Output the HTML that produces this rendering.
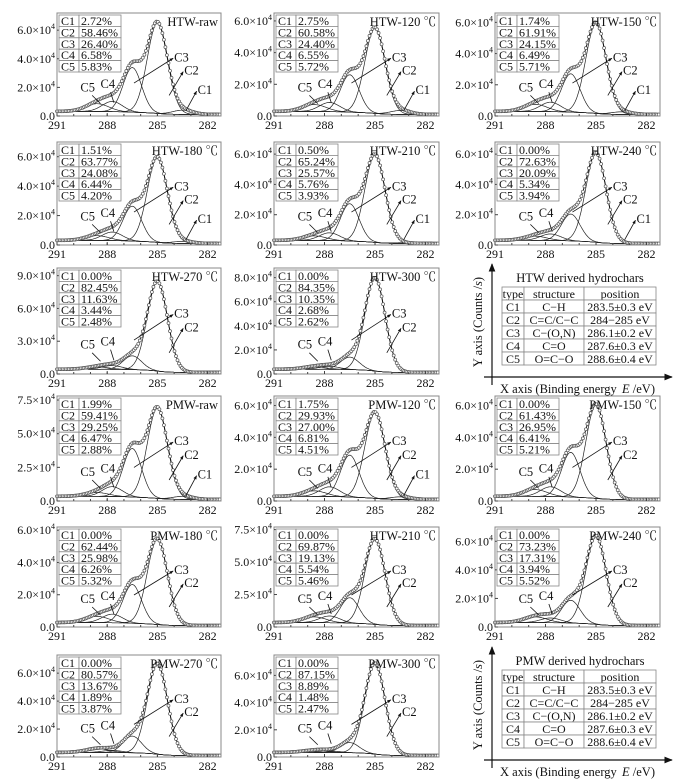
<!DOCTYPE html>
<html><head><meta charset="utf-8"><style>
body{margin:0;background:#fff}
svg{display:block;font-family:"Liberation Serif","Noto Serif CJK SC",serif}
</style></head><body>
<svg id="fig" width="678" height="784" viewBox="0 0 678 784" xmlns="http://www.w3.org/2000/svg"></svg>
<script>
// ---- data ----
const panelTitles=["HTW-raw","HTW-120 ℃","HTW-150 ℃","HTW-180 ℃","HTW-210 ℃","HTW-240 ℃","HTW-270 ℃","HTW-300 ℃","PMW-raw","PMW-120 ℃","PMW-150 ℃","PMW-180 ℃","HTW-210 ℃","PMW-240 ℃","PMW-270 ℃","PMW-300 ℃"];
const pctText=[
["2.72%","58.46%","26.40%","6.58%","5.83%"],["2.75%","60.58%","24.40%","6.55%","5.72%"],["1.74%","61.91%","24.15%","6.49%","5.71%"],
["1.51%","63.77%","24.08%","6.44%","4.20%"],["0.50%","65.24%","25.57%","5.76%","3.93%"],["0.00%","72.63%","20.09%","5.34%","3.94%"],
["0.00%","82.45%","11.63%","3.44%","2.48%"],["0.00%","84.35%","10.35%","2.68%","2.62%"],["1.99%","59.41%","29.25%","6.47%","2.88%"],
["1.75%","29.93%","27.00%","6.81%","4.51%"],["0.00%","61.43%","26.95%","6.41%","5.21%"],["0.00%","62.44%","25.98%","6.26%","5.32%"],
["0.00%","69.87%","19.13%","5.54%","5.46%"],["0.00%","73.23%","17.31%","3.94%","5.52%"],["0.00%","80.57%","13.67%","1.89%","3.87%"],["0.00%","87.15%","8.89%","1.48%","2.47%"]];
const pctValues=[[2.72,58.46,26.40,6.58,5.83],[2.75,60.58,24.40,6.55,5.72],[1.74,61.91,24.15,6.49,5.71],[1.51,63.77,24.08,6.44,4.20],[0.50,65.24,25.57,5.76,3.93],[0,72.63,20.09,5.34,3.94],[0,82.45,11.63,3.44,2.48],[0,84.35,10.35,2.68,2.62],[1.99,59.41,29.25,6.47,2.88],[1.75,59.93,27.00,6.81,4.51],[0,61.43,26.95,6.41,5.21],[0,62.44,25.98,6.26,5.32],[0,69.87,19.13,5.54,5.46],[0,73.23,17.31,3.94,5.52],[0,80.57,13.67,1.89,3.87],[0,87.15,8.89,1.48,2.47]];
const peakTops=[6.6,5.6,6.0,6.0,6.0,6.1,8.5,8.0,7.0,5.6,6.1,5.5,6.8,6.4,6.7,6.9]; // x1e4
const yMaxes=[7.2,6.5,6.6,7.0,6.8,6.8,9.7,8.8,7.8,6.6,6.6,6.2,7.7,7.0,7.3,7.5];
const tickSets=[[0,2,4,6],[0,2,4,6],[0,2,4,6],[0,2,4,6],[0,2,4,6],[0,2,4,6],[0,3,6,9],[0,2,4,6,8],[0,2.5,5,7.5],[0,2,4,6],[0,2,4,6],[0,2,4,6],[0,2.5,5,7.5],[0,2,4,6],[0,2,4,6],[0,2,4,6]];
const showC1=[1,1,1,1,1,1,0,0,1,1,0,0,0,0,0,0];
const centers=[283.5,285.0,286.5,287.7,288.6];
const sigmas=[0.6,0.6,0.55,0.6,0.7];
const xTicks=[291,288,285,282];
const cols=[[57,221],[274,439],[495,660]];
const rows=[[13,116],[142,245],[268,374],[396,501],[527,627],[655,757]];
const legendRows=[["type","structure","position"],["C1","C−H","283.5±0.3 eV"],["C2","C=C/C−C","284−285 eV"],["C3","C−(O,N)","286.1±0.2 eV"],["C4","C=O","287.6±0.3 eV"],["C5","O=C−O","288.6±0.4 eV"]];

const svg=document.getElementById('fig');const NS="http://www.w3.org/2000/svg";
function el(tag,attrs,parent,text){const e=document.createElementNS(NS,tag);for(const k in attrs)e.setAttribute(k,attrs[k]);if(text!==undefined)e.textContent=text;(parent||svg).appendChild(e);return e;}
el('defs',{}).innerHTML='<marker id="ah" viewBox="0 0 10 10" refX="9" refY="5" markerWidth="5" markerHeight="5" orient="auto"><path d="M0,1 L10,5 L0,9z" fill="#111"/></marker><marker id="ab" viewBox="0 0 10 10" refX="9" refY="5" markerWidth="7" markerHeight="7" orient="auto"><path d="M0,1 L10,5 L0,9z" fill="#111"/></marker>';

const slots=[[0,0],[0,1],[0,2],[1,0],[1,1],[1,2],[2,0],[2,1],[3,0],[3,1],[3,2],[4,0],[4,1],[4,2],[5,0],[5,1]];
function gauss(x,c,s){return Math.exp(-(x-c)*(x-c)/(2*s*s));}

slots.forEach(([r,c],i)=>{
  const [L,R]=cols[c],[T,B]=rows[r];const ymax=yMaxes[i];
  const X=v=>L+(291-v)/(291-281.2)*(R-L);const Y=v=>B-v/ymax*(B-T);
  const g=el('g',{},svg);
  const p=pctValues[i];
  const bLow=0.015*ymax,bHigh=0.045*ymax;
  let S=0;p.forEach((v,k)=>S+=v/sigmas[k]*gauss(285.0,centers[k],sigmas[k]));
  const cumAt=x=>{let s=0;p.forEach((v,k)=>{s+=v*0.5*(1+Math.tanh((x-centers[k])/(sigmas[k]*1.2)));});return s/100;};
  const base=x=>bLow+(bHigh-bLow)*cumAt(x);
  const K=(peakTops[i]-base(285.0))/S;
  const amps=p.map((v,k)=>v/sigmas[k]*K);
  const xs=[];for(let x=291;x>=281.2;x-=0.05)xs.push(x);
  amps.forEach((a,k)=>{if(a<=0)return;let d='';xs.forEach((x,j)=>{d+=(j?'L':'M')+X(x).toFixed(1)+','+Y(base(x)+a*gauss(x,centers[k],sigmas[k])).toFixed(1);});
    const pa=el('path',{d,fill:'none',stroke:'#222','stroke-width':0.7},g);});
  let bd='';xs.forEach((x,j)=>{bd+=(j?'L':'M')+X(x).toFixed(1)+','+Y(base(x)).toFixed(1);});
  const bl=el('path',{d:bd,fill:'none',stroke:'#222','stroke-width':0.7},g);
  const env=x=>base(x)+amps.reduce((s,a,k)=>s+a*gauss(x,centers[k],sigmas[k]),0);
  let ed='';xs.forEach((x,j)=>{ed+=(j?'L':'M')+X(x).toFixed(1)+','+Y(env(x)).toFixed(1);});
  const en=el('path',{d:ed,fill:'none',stroke:'#111','stroke-width':1},g);
  for(let x=291;x>=281.2;x-=0.09){const ci=el('circle',{cx:X(x).toFixed(1),cy:Y(env(x)).toFixed(1),r:1.5,fill:'#fff',stroke:'#555','stroke-width':0.7},g);}
  const fr=el('rect',{x:L,y:T,width:R-L,height:B-T,fill:'none',stroke:'#888','stroke-width':1},g);
  xTicks.forEach(t=>{el('line',{x1:X(t),x2:X(t),y1:B,y2:B-3,stroke:'#444'},g);
    const tl=el('text',{x:X(t),y:B+13,'font-size':12,'text-anchor':'middle',fill:'#111'},g,String(t));});
  for(let t=290;t>=282;t-=1)el('line',{x1:X(t),x2:X(t),y1:B,y2:B-2,stroke:'#444'},g);
  tickSets[i].forEach(t=>{el('line',{x1:L,x2:L+3,y1:Y(t),y2:Y(t),stroke:'#444'},g);
    const tx=el('text',{x:L-2,y:Y(t)+4,'font-size':12,'text-anchor':'end',fill:'#111'},g);
    if(t===0)tx.textContent='0.0';else{tx.textContent=t.toFixed(1)+'×10';el('tspan',{'font-size':8,dy:-5},tx,'4');}});
  const ti=el('text',{x:R-3,y:T+13,'font-size':12.5,'text-anchor':'end',fill:'#111'},g,panelTitles[i]);
  const tb=el('g',{},g);
  const tx0=L+2,ty0=T+2,rh=11.4;
  pctText[i].forEach((v,k)=>{el('rect',{x:tx0,y:ty0+k*rh,width:20,height:rh,fill:'#fff',stroke:'#888','stroke-width':0.8},tb);
    el('rect',{x:tx0+20,y:ty0+k*rh,width:42,height:rh,fill:'#fff',stroke:'#888','stroke-width':0.8},tb);
    el('text',{x:tx0+2,y:ty0+k*rh+10,'font-size':12,fill:'#111'},tb,'C'+(k+1));
    el('text',{x:tx0+22,y:ty0+k*rh+10,'font-size':12,fill:'#111'},tb,v);});
  function lab(name,lx,ly,ax,ay){const lg=el('g',{},g);
    el('line',{x1:X(ax),y1:Y(ay),x2:X(lx)-6,y2:Y(ly)+2,stroke:'#111','stroke-width':0.8,'marker-end':'url(#ah)'},lg);
    el('text',{x:X(lx)-5,y:Y(ly)+5,'font-size':12.5,fill:'#111'},lg,name);}
  lab('C3',283.7,0.58*ymax,286.4,0.32*ymax);
  lab('C2',283.1,0.45*ymax,284.3,0.2*ymax);
  if(showC1[i])lab('C1',282.3,0.26*ymax,283.3,0.05*ymax);
  const c5=el('text',{x:X(289.6),y:Y(0.24*ymax),'font-size':12.5,fill:'#111'},g,'C5');
  const c4=el('text',{x:X(288.4),y:Y(0.27*ymax),'font-size':12.5,fill:'#111'},g,'C4');
  el('line',{x1:X(288.9),y1:Y(0.2*ymax),x2:X(288.4),y2:Y(0.12*ymax),stroke:'#111','stroke-width':0.8},g);
  el('line',{x1:X(287.8),y1:Y(0.23*ymax),x2:X(287.6),y2:Y(0.13*ymax),stroke:'#111','stroke-width':0.8},g);
});

function legend(top,title,nm){
  const g=el('g',{},svg);
  const ax=492,ay=top+105;
  el('line',{x1:ax,y1:ay+8,x2:ax,y2:top-8,stroke:'#111','stroke-width':1.2,'marker-end':'url(#ab)'},g);
  el('line',{x1:ax-8,y1:ay,x2:672,y2:ay,stroke:'#111','stroke-width':1.2,'marker-end':'url(#ab)'},g);
  const yt=el('text',{x:0,y:0,'font-size':12.5,'text-anchor':'middle',transform:`translate(482,${top+50}) rotate(-90)`,fill:'#111'},g);yt.textContent='Y axis (Counts /';el('tspan',{'font-style':'italic'},yt,'s');yt.appendChild(document.createTextNode(')'));
  
  const xt=el('text',{x:500,y:ay+16,'font-size':12.5,fill:'#111'},g,'X axis (Binding energy');
  const e=el('text',{x:622,y:ay+16,'font-size':12.5,fill:'#111'},g);el('tspan',{'font-style':'italic'},e,'E');e.appendChild(document.createTextNode(' /eV)'));
  el('text',{x:580,y:top+10,'font-size':12.5,'text-anchor':'middle',fill:'#111'},g,title);
  const cw=[22,60,72],x0=502,rh=13;
  legendRows.forEach((row,k)=>{let x=x0;row.forEach((t,j)=>{el('rect',{x,y:top+15+k*rh,width:cw[j],height:rh,fill:'#fff',stroke:'#888','stroke-width':0.8},g);
    el('text',{x:x+cw[j]/2,y:top+15+k*rh+11,'font-size':12,'text-anchor':'middle',fill:'#111'},g,t);x+=cw[j];});});
}
legend(272,'HTW derived hydrochars','legend-htw');
legend(655,'PMW derived hydrochars','legend-pmw');
</script>
</body></html>
